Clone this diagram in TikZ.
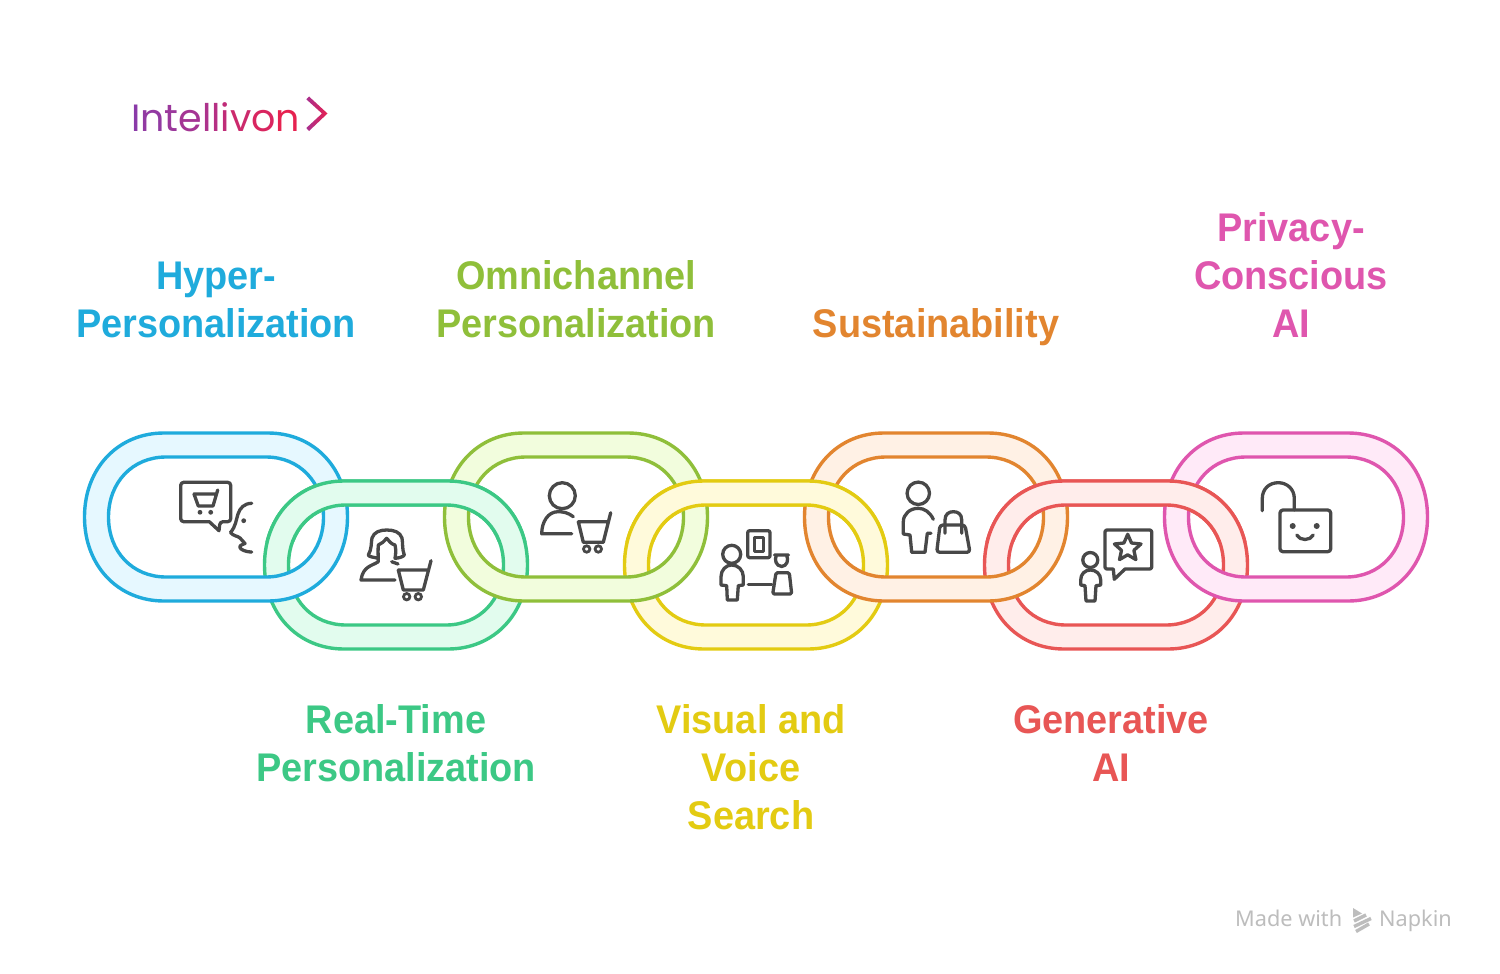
\documentclass[tikz,border=0pt]{standalone}
\usepackage{fontspec}
\setmainfont{Liberation Sans}
\newfontfamily\labelfont[FakeStretch=0.947,BoldFont={Liberation Sans Bold}]{Liberation Sans}
\newfontfamily\logofont{Poppins}
\newfontfamily\footfont{Noto Sans}
\definecolor{cblue}{HTML}{1FABDC}\definecolor{fblue}{HTML}{E6F8FF}
\definecolor{cgreen}{HTML}{3CC885}\definecolor{fgreen}{HTML}{E2FCEE}
\definecolor{clime}{HTML}{8FBF3A}\definecolor{flime}{HTML}{F2FDDD}
\definecolor{cyel}{HTML}{E3CB12}\definecolor{fyel}{HTML}{FFFADB}
\definecolor{corg}{HTML}{E2852F}\definecolor{forg}{HTML}{FFF1E5}
\definecolor{cred}{HTML}{E85655}\definecolor{fred}{HTML}{FFEDEB}
\definecolor{cpink}{HTML}{DF56AE}\definecolor{fpink}{HTML}{FFEAF8}
\definecolor{icon}{HTML}{484848}
\definecolor{foot}{HTML}{BDBDBD}
\definecolor{chevl}{HTML}{A83090}
\definecolor{chevr}{HTML}{E6204F}
\newcommand{\ringpath}{(-52,-84) -- (52,-84) .. controls (98.1,-84) and (131.5,-48.7) .. (131.5,0) .. controls (131.5,48.7) and (98.1,84) .. (52,84) -- (-52,84) .. controls (-98.1,84) and (-131.5,48.7) .. (-131.5,0) .. controls (-131.5,-48.7) and (-98.1,-84) .. (-52,-84) -- cycle
 (-50,-60) -- (50,-60) .. controls (83.35,-60) and (107.5,-34.8) .. (107.5,0) .. controls (107.5,34.8) and (83.35,60) .. (50,60) -- (-50,60) .. controls (-83.35,60) and (-107.5,34.8) .. (-107.5,0) .. controls (-107.5,-34.8) and (-83.35,-60) .. (-50,-60) -- cycle}
\newcommand{\chainlink}[4]{\begin{scope}[shift={(#1,#2)}]\path[fill=#4,even odd rule] \ringpath;\draw[draw=#3,line width=3.4pt] \ringpath;\end{scope}}
\newcommand{\toplink}[3]{\begin{scope}\clip (#1-150,470) rectangle (#1+150,541);\chainlink{#1}{565}{#2}{#3}\end{scope}}
\tikzset{
  ic/.style={draw=icon,line width=3.3pt,line cap=round,line join=round},
  lab/.style={font=\labelfont\bfseries\fontsize{40}{48}\selectfont,align=center,inner sep=0pt,anchor=base},
  ft/.style={font=\footfont\fontsize{21.7}{24}\selectfont,text=foot,inner sep=0pt,anchor=base west},
}
\begin{document}
\begin{tikzpicture}[x=1pt,y=-1pt]
\useasboundingbox (0,0) rectangle (1500,974);
\fill[white] (0,0) rectangle (1500,974);
% lower links, then upper links, then the top of the lower links again
\chainlink{396}{565}{cgreen}{fgreen}
\chainlink{756}{565}{cyel}{fyel}
\chainlink{1116}{565}{cred}{fred}
\chainlink{216}{517}{cblue}{fblue}
\chainlink{576}{517}{clime}{flime}
\chainlink{936}{517}{corg}{forg}
\chainlink{1296}{517}{cpink}{fpink}
\toplink{396}{cgreen}{fgreen}
\toplink{756}{cyel}{fyel}
\toplink{1116}{cred}{fred}
% labels
\node[lab,text=cblue] (l1) at (216,289) {Hyper-};
\node[lab,text=cblue] (l1b) at (216,337) {Personalization};
\node[lab,text=clime] (l3) at (576,289) {Omnichannel};
\node[lab,text=clime] (l3b) at (576,337) {Personalization};
\node[lab,text=corg] (l5) at (936,337) {Sustainability};
\node[lab,text=cpink] (l7) at (1291,241) {Privacy-};
\node[lab,text=cpink] (l7b) at (1291,289) {Conscious};
\node[lab,text=cpink] (l7c) at (1291,337) {AI};
\node[lab,text=cgreen] (l2) at (396,733) {Real-Time};
\node[lab,text=cgreen] (l2b) at (396,781) {Personalization};
\node[lab,text=cyel] (l4) at (751,733) {Visual and};
\node[lab,text=cyel] (l4b) at (751,781) {Voice};
\node[lab,text=cyel] (l4c) at (751,829) {Search};
\node[lab,text=cred] (l6) at (1111,733) {Generative};
\node[lab,text=cred] (l6b) at (1111,781) {AI};
% icon 1
\draw[ic] (180.7,482.3) [rounded corners=3pt] -- (230.7,482.3) -- (230.7,521.7) -- (220,521.7) [sharp corners] -- (219,530.7) -- (209.3,521.7) [rounded corners=3pt] -- (180.7,521.7) -- cycle;
\draw[ic] (194,494) -- (215,494) (217.7,490) -- (213,506) -- (198.3,506) -- (194,494);
\fill[icon] (200,512.3) circle (2.4) (210.7,512.3) circle (2.4);
\draw[ic] (251.7,503.3) .. controls (244,503.5) and (240,508) .. (238,514) .. controls (236,520) and (236,526) .. (230.5,532.5) .. controls (233,536) and (238,536) .. (240,538) -- (245,543.5) .. controls (241,545) and (238,546) .. (241,549) .. controls (244,551) and (248,552) .. (251.7,552);
\fill[icon] (243.7,520.7) circle (2.4);
% icon 2
\draw[ic] (378.3,558.3) .. controls (373,557) and (369,557) .. (368.3,555) .. controls (372,549) and (371,542) .. (372,538) .. controls (374,532) and (380,530) .. (386.7,530) .. controls (394,530) and (400,532) .. (402,538) .. controls (403,544) and (402,549) .. (404.3,555) .. controls (403,557) and (399,558) .. (395,558.3) .. controls (396,553) and (396,549) .. (395,545) .. controls (391,544) and (389,541) .. (386.7,538.3) .. controls (384,541) and (382,544) .. (378.3,545) .. controls (378,549) and (378,554) .. (378.3,558.3) -- (378.3,561.7) .. controls (372,566) and (363,566) .. (361,580) -- (395,580);
\draw[ic] (391.7,561.7) -- (398,564);
\draw[ic] (398.3,570) -- (427.7,570) (431,560.7) -- (423.3,590) -- (403.3,590) -- (398.3,570);
\draw[icon,line width=2.8pt] (406.7,596.7) circle (3.2) (418.3,596.7) circle (3.2);
% icon 3
\draw[ic] (562.3,495.7) circle (13);
\draw[ic] (573.3,516.7) .. controls (568,512.5) and (563,511.7) .. (558,511.7) .. controls (548,511.7) and (541.7,522) .. (541.7,533.8) -- (571.7,533.8);
\draw[ic] (578.3,521.7) -- (607.3,521.7) (610.7,512.7) -- (603.3,542.3) -- (583.3,542.3) -- (578.3,521.7);
\draw[icon,line width=2.8pt] (586.7,549) circle (3.2) (598.3,549) circle (3.2);
% icon 4
\draw[ic] (731.7,554.3) circle (9);
\draw[ic] (726.7,585.7) -- (721,585) -- (721,576.7) .. controls (721,570) and (726,565) .. (731.7,565) .. controls (738,565) and (743.3,570) .. (743.3,576.7) -- (743.3,585) -- (738.3,585.7) -- (737.3,600) -- (727.3,600) -- cycle;
\draw[ic] (748.3,584.7) -- (771.7,584.7);
\draw[ic] (747.7,530.7) [rounded corners=2pt] -- (770,530.7) -- (770,557.7) -- (747.7,557.7) -- cycle;
\draw[ic] (754.3,537.3) -- (763.3,537.3) -- (763.3,551.7) -- (754.3,551.7) -- cycle;
\draw[ic] (774.5,555) -- (788.5,555) (776.5,555) .. controls (774,560) and (776,566) .. (781.7,566.5) .. controls (787,566) and (789,560) .. (786.5,555);
\draw[ic,rounded corners=1.5pt] (776,572.7) -- (789.3,572.7) -- (791.7,594) -- (772.7,594) -- cycle;
% icon 5
\draw[ic] (918.3,493.3) circle (11.2);
\draw[ic] (933.3,519.3) .. controls (930,512) and (924,508.3) .. (918.3,508.3) .. controls (910,508.3) and (903.3,514) .. (903.3,522) -- (903.3,534) -- (910,535) -- (911.7,552.3) -- (925,552.3) -- (927.3,533.3) -- (931,533.3);
\draw[ic,rounded corners=3pt] (940,525) -- (965,525) -- (970,552.3) -- (936.7,552.3) -- cycle;
\draw[ic] (945,533.3) -- (945,520) .. controls (945,514) and (949,511.7) .. (953.3,511.7) .. controls (958,511.7) and (961.7,514) .. (961.7,520) -- (961.7,533.3);
% icon 6
\draw[ic] (1090.3,560) circle (7.5);
\draw[ic] (1085,585.7) -- (1080.7,585) -- (1080.7,580) .. controls (1080.7,574) and (1085,570) .. (1090.3,570) .. controls (1096,570) and (1100.7,574) .. (1100.7,580) -- (1100.7,585) -- (1096,585.7) -- (1095,601) -- (1086,601) -- cycle;
\draw[ic] (1113.3,569) [rounded corners=2pt] -- (1105,569) -- (1105,530) -- (1151.7,530) -- (1151.7,569) [sharp corners] -- (1125,569) -- (1114.3,579.3) -- cycle;
\begin{scope}[shift={(1127.7,548.3)}]
\draw[ic] (0,-14) -- (3.8,-5.3) -- (13.3,-4.3) -- (6.2,2) -- (8.2,11.3) -- (0,6.5) -- (-8.2,11.3) -- (-6.2,2) -- (-13.3,-4.3) -- (-3.8,-5.3) -- cycle;
\end{scope}
% icon 7
\draw[ic] (1262.3,510.7) -- (1262.3,498.5) .. controls (1262.3,489) and (1269,482.7) .. (1278.3,482.7) .. controls (1287,482.7) and (1294.3,489) .. (1294.3,498.5) -- (1294.3,510);
\draw[ic,rounded corners=3pt] (1280,510) rectangle (1330.7,551.7);
\fill[icon] (1292.7,526) circle (3) (1316.7,526) circle (3);
\draw[ic] (1296.7,535) .. controls (1300,541) and (1310,541) .. (1313.3,535);
% logo
\node[inner sep=0pt,anchor=base west,font=\logofont\fontsize{38}{40}\selectfont] (logo) at (131,131) {\textcolor[HTML]{8A3AA8}{I}\textcolor[HTML]{923AA2}{n}\textcolor[HTML]{9B389C}{t}\textcolor[HTML]{A43594}{e}\textcolor[HTML]{AD338C}{l}\textcolor[HTML]{B63084}{l}\textcolor[HTML]{C02C78}{i}\textcolor[HTML]{CC2A6C}{v}\textcolor[HTML]{D92660}{o}\textcolor[HTML]{E62250}{n}};
\path[left color=chevl,right color=chevr,draw=none] (306.3,99.3) -- (309,96.5) -- (327.5,113.5) -- (309,131) -- (306.3,128) -- (322,113.5) -- cycle;
% footer
\node[ft] (made) at (1235,926) {Made with};
\node[ft] (napkin) at (1379,926) {Napkin};
\fill[foot] (1353,908) -- (1362,913.5) -- (1353,917.5) -- cycle;
\draw[foot,line width=3.4pt] (1354,921) -- (1366,915) (1354,926.5) -- (1371,918.5) (1356,931.5) -- (1369,924);
\end{tikzpicture}
\end{document}
